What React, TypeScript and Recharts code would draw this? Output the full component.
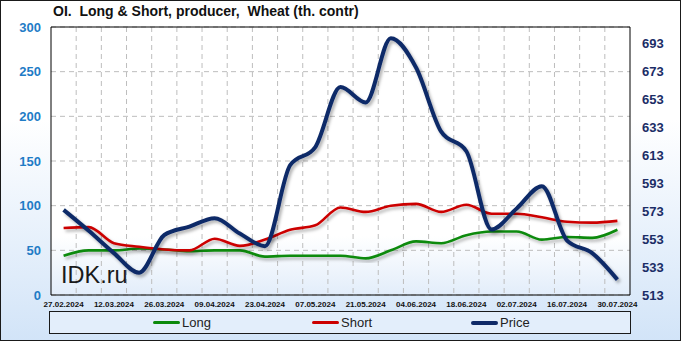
import React from 'react';
import { LineChart, Line, XAxis, YAxis, CartesianGrid, ReferenceLine } from 'recharts';

// weekly reports, 27.02.2024 - 30.07.2024
const dates = [
  '27.02.2024', '05.03.2024', '12.03.2024', '19.03.2024', '26.03.2024', '02.04.2024',
  '09.04.2024', '16.04.2024', '23.04.2024', '30.04.2024', '07.05.2024', '14.05.2024',
  '21.05.2024', '28.05.2024', '04.06.2024', '11.06.2024', '18.06.2024', '25.06.2024',
  '02.07.2024', '09.07.2024', '16.07.2024', '23.07.2024', '30.07.2024',
];

const longValues = [44, 50, 50, 52, 51, 49, 50, 50, 43, 44, 44, 44, 41, 50, 60, 58, 67, 71, 71, 62, 65, 64, 73];
const shortValues = [75, 76, 58, 54, 51, 50, 63, 55, 62, 73, 78, 98, 93, 100, 102, 93, 101, 91, 91, 87, 82, 81, 83];
const priceValues = [574, 559, 543, 529, 556, 562, 568, 557, 548, 606, 619, 662, 651, 697, 676, 630, 616, 560, 575, 591, 552, 543, 524];

const leftTicks = [0, 50, 100, 150, 200, 250, 300];
const rightTicks = [513, 533, 553, 573, 593, 613, 633, 653, 673, 693];

const COLORS = { long: '#0c8a0c', short: '#cc0000', price: '#0f2a68' };

const data = dates.map((date, i) => ({
  date,
  long: longValues[i],
  short: shortValues[i],
  price: priceValues[i],
}));

const legendItems = [
  { label: 'Long', color: COLORS.long, width: 3 },
  { label: 'Short', color: COLORS.short, width: 3 },
  { label: 'Price', color: COLORS.price, width: 4 },
];

const gridColumns = ({ offset }: any) => {
  const step = offset.width / dates.length;
  return dates.slice(1).map((_, k) => offset.left + step * (k + 1));
};

export default function App() {
  return (
    <div
      style={{
        position: 'absolute',
        left: 0,
        top: 0,
        width: 681,
        height: 341,
        background: 'linear-gradient(to bottom, #ffffff 0%, #ffffff 35%, #d2e4f8 100%)',
        fontFamily: '"Liberation Sans", Arial, sans-serif',
      }}
    >
      <div
        style={{
          position: 'absolute',
          left: 53,
          top: 3,
          fontSize: 14,
          fontWeight: 'bold',
          color: '#111',
          whiteSpace: 'pre',
        }}
      >
        {'OI.  Long & Short, producer,  Wheat (th. contr)'}
      </div>

      <div style={{ position: 'absolute', left: 0, top: 0 }}>
        <LineChart width={681} height={341} data={data} margin={{ top: 27, right: 0, bottom: 0, left: 0 }}>
          <defs>
            <linearGradient id="plotFill" x1="0" y1="0" x2="0" y2="1">
              <stop offset="0%" stopColor="#ffffff" />
              <stop offset="78%" stopColor="#ffffff" />
              <stop offset="100%" stopColor="#e2edfa" />
            </linearGradient>
            <filter id="shadow" x="-5%" y="-5%" width="110%" height="120%">
              <feDropShadow dx="2" dy="2.5" stdDeviation="1.4" floodColor="#000" floodOpacity="0.3" />
            </filter>
          </defs>
          <CartesianGrid
            yAxisId="left"
            stroke="#bdbdbd"
            strokeDasharray="5 4"
            fill="url(#plotFill)"
            fillOpacity={1}
            verticalCoordinatesGenerator={gridColumns}
          />
          <XAxis
            dataKey="date"
            height={46}
            interval={1}
            padding={{ left: 12.6, right: 12.6 }}
            axisLine={{ stroke: '#000' }}
            tickLine={false}
            tickSize={0}
            tickMargin={6}
            tick={{ fill: '#111', fontSize: 8, fontWeight: 'bold' }}
          />
          <YAxis
            yAxisId="left"
            width={51}
            domain={[0, 300]}
            ticks={leftTicks}
            axisLine={{ stroke: '#000' }}
            tickLine={false}
            tickSize={0}
            tickMargin={10}
            tick={{ fill: '#1f7cc6', fontSize: 13, fontWeight: 'bold' }}
          />
          <YAxis
            yAxisId="right"
            orientation="right"
            width={51}
            domain={[513, 705]}
            ticks={rightTicks}
            axisLine={{ stroke: '#000' }}
            tickLine={false}
            tickSize={0}
            tickMargin={12}
            tick={{ fill: '#1b2d66', fontSize: 13, fontWeight: 'bold' }}
          />
          <ReferenceLine yAxisId="left" y={300} stroke="#000" />
          <text x={61} y={283} fontSize={23.5} fill="#1a1a1a" fontFamily='"Liberation Sans", Arial, sans-serif'>
            IDK.ru
          </text>
          <Line
            yAxisId="left"
            type="monotone"
            dataKey="long"
            stroke={COLORS.long}
            strokeWidth={2.6}
            dot={false}
            activeDot={false}
            filter="url(#shadow)"
            isAnimationActive={false}
          />
          <Line
            yAxisId="left"
            type="monotone"
            dataKey="short"
            stroke={COLORS.short}
            strokeWidth={2.6}
            dot={false}
            activeDot={false}
            filter="url(#shadow)"
            isAnimationActive={false}
          />
          <Line
            yAxisId="right"
            type="monotone"
            dataKey="price"
            stroke={COLORS.price}
            strokeWidth={4}
            dot={false}
            activeDot={false}
            filter="url(#shadow)"
            isAnimationActive={false}
          />
        </LineChart>
      </div>

      <div
        style={{
          position: 'absolute',
          left: 49,
          top: 311,
          width: 582,
          height: 23,
          border: '1px solid #1a1a1a',
          boxSizing: 'border-box',
          background: '#e3eefb',
          display: 'flex',
          alignItems: 'center',
          paddingLeft: 103,
        }}
      >
        {legendItems.map((item) => (
          <div key={item.label} style={{ width: 161, display: 'flex', alignItems: 'center' }}>
            <span
              style={{
                display: 'inline-block',
                width: 27,
                height: item.width,
                borderRadius: 2,
                background: item.color,
                marginRight: 2,
              }}
            />
            <span style={{ fontSize: 13, color: '#222' }}>{item.label}</span>
          </div>
        ))}
      </div>

      <div
        style={{
          position: 'absolute',
          inset: 0,
          border: '1px solid #1a1a1a',
          pointerEvents: 'none',
        }}
      />
    </div>
  );
}
